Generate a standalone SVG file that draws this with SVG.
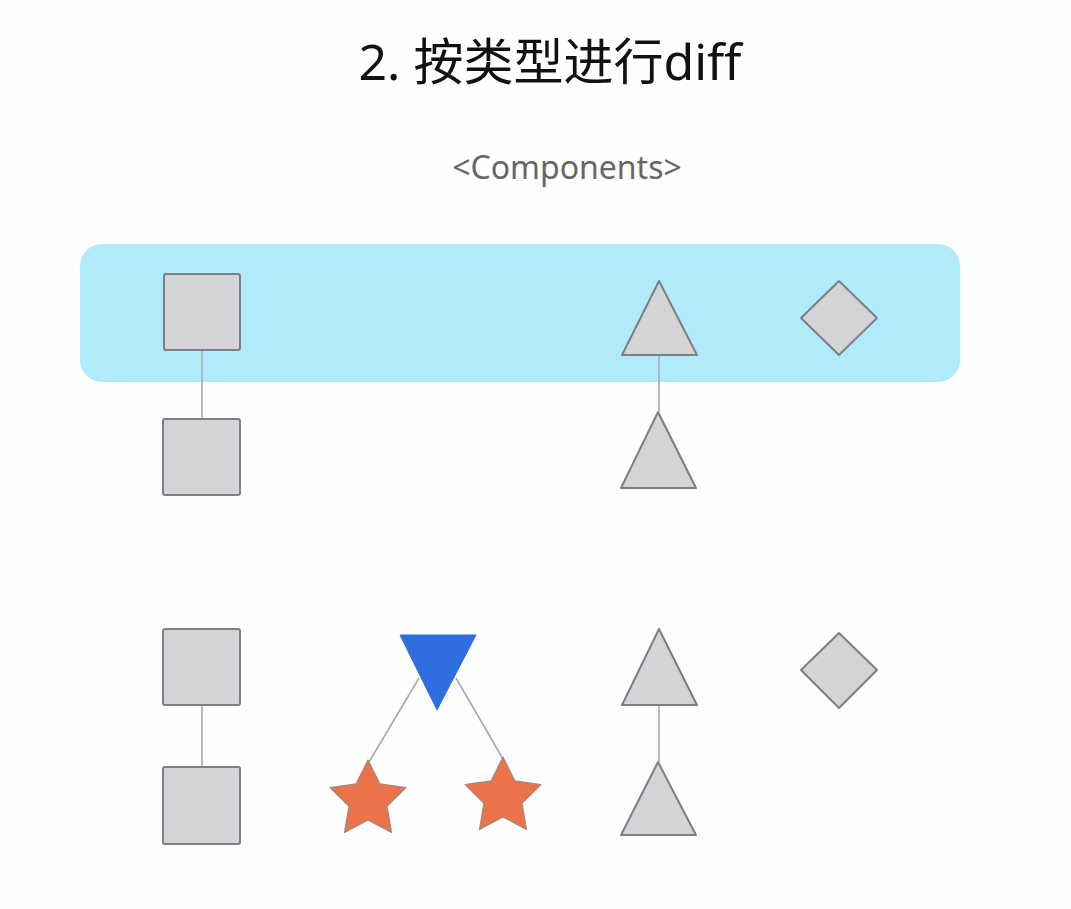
<svg xmlns="http://www.w3.org/2000/svg" width="1071" height="909" viewBox="0 0 1071 909">
<style>
.shape{fill:#d4d3d6;stroke:#7c7f84;stroke-width:2;stroke-linejoin:round}
.conn{stroke:#a9a9a9;stroke-width:1.6;fill:none}
.title{font-family:"Noto Sans","Noto Sans CJK SC",sans-serif;font-size:50px;fill:#111;text-anchor:middle}
.sub{font-family:"Noto Sans",sans-serif;font-size:32px;fill:#666;text-anchor:middle}
.star{fill:#ec724a;stroke:#a38a80;stroke-width:1.2;stroke-linejoin:round}
</style>
<rect width="1071" height="909" fill="#fefefe"/>
<text class="title" x="550" y="80">2. 按类型进行diff</text>
<text class="sub" x="567" y="179">&lt;Components&gt;</text>
<rect id="band" x="80" y="244" width="880" height="138" rx="22" fill="#b0eafb"/>
<g id="connectors">
<line class="conn" x1="202" y1="350" x2="202" y2="419"/>
<line class="conn" x1="659" y1="355" x2="659" y2="412"/>
<line class="conn" x1="202" y1="705" x2="202" y2="767"/>
<line class="conn" x1="659" y1="705" x2="659" y2="762"/>
<line class="conn" x1="419" y1="678" x2="369" y2="762"/>
<line class="conn" x1="456" y1="678" x2="503" y2="759"/>
</g>
<g id="sq1"><rect class="shape" x="164" y="274" width="76" height="76" rx="2"/></g>
<g id="sq2"><rect class="shape" x="163" y="419" width="77" height="76" rx="2"/></g>
<g id="tri1"><polygon class="shape" points="659,281 697,355 622,355"/></g>
<g id="tri2"><polygon class="shape" points="658,412 696,488 621,488"/></g>
<g id="dia1"><polygon class="shape" points="839,281 877,318 839,355 801,318"/></g>
<g id="sq3"><rect class="shape" x="163" y="629" width="77" height="76" rx="2"/></g>
<g id="sq4"><rect class="shape" x="163" y="767" width="77" height="77" rx="2"/></g>
<g id="invtri"><polygon points="400,635 476,635 437,710" fill="#2f6ee0" stroke="#2f6ee0" stroke-width="1"/></g>
<g id="star1"><polygon class="star" points="368,760 379.8,783.8 406,787.6 387,806.2 391.5,832.4 368,820 344.5,832.4 349,806.2 330,787.6 356.2,783.8"/></g>
<g id="star2"><polygon class="star" points="503,757 514.8,780.8 541,784.6 522,803.2 526.5,829.4 503,817 479.5,829.4 484,803.2 465,784.6 491.2,780.8"/></g>
<g id="tri3"><polygon class="shape" points="659,629 697,705 622,705"/></g>
<g id="tri4"><polygon class="shape" points="658,762 696,835 621,835"/></g>
<g id="dia2"><polygon class="shape" points="839,633 877,670 839,708 801,670"/></g>
</svg>
